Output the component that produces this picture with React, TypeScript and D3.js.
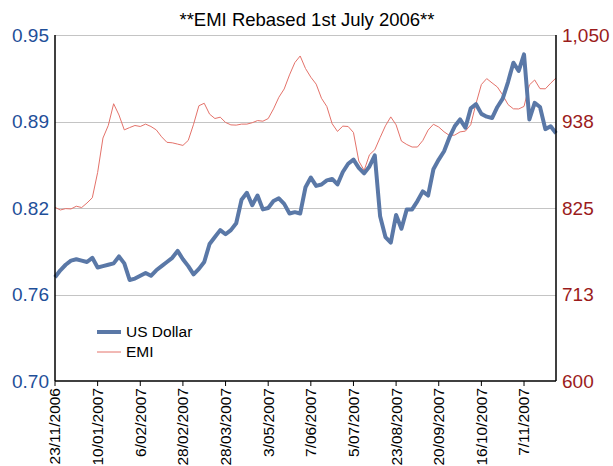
import React from 'react';
import * as d3 from 'd3';

// weekly-ish observations, one tick label every 8 points
const tickLabels = [
  '23/11/2006', '10/01/2007', '6/02/2007', '28/02/2007', '28/03/2007', '3/05/2007',
  '7/06/2007', '5/07/2007', '23/08/2007', '20/09/2007', '16/10/2007', '7/11/2007'
];
const tickEvery = 8;

const usDollar = [
  0.775, 0.780, 0.784, 0.787, 0.788, 0.787, 0.786, 0.789, 0.782, 0.783,
  0.784, 0.785, 0.790, 0.785, 0.773, 0.774, 0.776, 0.778, 0.776, 0.780,
  0.783, 0.786, 0.789, 0.794, 0.788, 0.783, 0.777, 0.781, 0.786, 0.799,
  0.804, 0.809, 0.806, 0.809, 0.814, 0.831, 0.836, 0.827, 0.834, 0.824,
  0.825, 0.830, 0.832, 0.828, 0.821, 0.822, 0.821, 0.840, 0.847, 0.841,
  0.842, 0.845, 0.846, 0.842, 0.851, 0.857, 0.860, 0.854, 0.850, 0.855,
  0.863, 0.819, 0.804, 0.800, 0.820, 0.810, 0.824, 0.824, 0.830, 0.837,
  0.834, 0.853, 0.860, 0.866, 0.876, 0.884, 0.889, 0.883, 0.897, 0.900,
  0.893, 0.891, 0.890, 0.898, 0.904, 0.916, 0.930, 0.924, 0.936, 0.889,
  0.901, 0.898, 0.882, 0.884, 0.879
];

const emi = [
  825.9, 822.4, 824.2, 823.8, 827.3, 825.6, 831.5, 838.3, 871.2, 916.0,
  932.4, 960.6, 946.0, 926.6, 929.6, 932.3, 931.0, 934.1, 931.0, 926.6,
  917.6, 910.4, 909.8, 908.1, 906.4, 912.9, 933.9, 958.0, 961.2, 947.1,
  941.4, 943.1, 936.3, 933.1, 932.8, 934.1, 934.1, 935.9, 938.7, 937.9,
  941.3, 953.9, 969.0, 979.8, 998.1, 1014.1, 1022.7, 1006.4, 995.1, 986.1,
  967.7, 957.0, 934.6, 924.6, 931.5, 931.0, 923.2, 886.1, 873.9, 894.2,
  900.7, 916.6, 931.9, 943.5, 933.1, 912.0, 907.6, 904.3, 904.3, 912.7,
  926.3, 933.9, 930.3, 924.1, 919.4, 919.8, 924.0, 925.0, 933.3, 960.9,
  985.6, 993.3, 987.7, 982.4, 972.0, 959.5, 954.0, 953.8, 957.1, 985.0,
  991.5, 980.2, 980.0, 987.3, 994.1
];

const leftTicks = [0.70, 0.7625, 0.825, 0.8875, 0.95];
const leftTickLabels = ['0.70', '0.76', '0.82', '0.89', '0.95'];
const rightTicks = [600, 712.5, 825, 937.5, 1050];
const rightTickLabels = ['600', '713', '825', '938', '1,050'];

const W = 613;
const H = 466;
const margin = { top: 35, right: 57, bottom: 85, left: 55 };
const font = '"Liberation Sans", Arial, sans-serif';

const App: React.FC = () => {
  const x = d3.scaleLinear()
    .domain([0, usDollar.length - 1])
    .range([margin.left, W - margin.right]);
  const yL = d3.scaleLinear().domain([0.70, 0.95]).range([H - margin.bottom, margin.top]);
  const yR = d3.scaleLinear().domain([600, 1050]).range([H - margin.bottom, margin.top]);

  const usdLine = d3.line<number>().x((d, i) => x(i)).y(d => yL(d));
  const emiLine = d3.line<number>().x((d, i) => x(i)).y(d => yR(d));

  const bottom = H - margin.bottom;
  const tickIdx = tickLabels.map((_, i) => i * tickEvery);

  return (
    <svg width={W} height={H} style={{ position: 'absolute', left: 0, top: 0 }} fontFamily={font}>
      <rect width={W} height={H} fill="#fff" />
      <text x={307} y={26} textAnchor="middle" fontSize={18.5} fill="#000">
        **EMI Rebased 1st July 2006**
      </text>

      {/* gridlines */}
      {leftTicks.slice(1).map(t => (
        <line key={t} x1={margin.left} x2={W - margin.right}
          y1={Math.round(yL(t)) + 0.5} y2={Math.round(yL(t)) + 0.5}
          stroke="#c4c4c4" strokeWidth={1.2} />
      ))}

      {/* lines */}
      <path d={emiLine(emi) || ''} fill="none" stroke="#e4726a" strokeWidth={1} />
      <path d={usdLine(usDollar) || ''} fill="none" stroke="#5a78a7" strokeWidth={4} strokeLinejoin="round" />

      {/* axes */}
      <line x1={margin.left} x2={margin.left} y1={margin.top} y2={bottom} stroke="#000" strokeWidth={1.5} />
      <line x1={W - margin.right} x2={W - margin.right} y1={margin.top} y2={bottom} stroke="#000" strokeWidth={1.5} />
      <line x1={margin.left} x2={W - margin.right} y1={bottom} y2={bottom} stroke="#000" strokeWidth={1.5} />

      {leftTicks.map((t, i) => (
        <text key={t} x={49} y={yL(t)} dy="0.35em" textAnchor="end" fontSize={19} fill="#1f4f99">
          {leftTickLabels[i]}
        </text>
      ))}
      {rightTicks.map((t, i) => (
        <text key={t} x={562} y={yR(t)} dy="0.35em" textAnchor="start" fontSize={19} fill="#9b1c1c">
          {rightTickLabels[i]}
        </text>
      ))}

      {tickIdx.map((ti, i) => (
        <g key={ti} transform={`translate(${x(ti)},${bottom})`}>
          <line y1={0} y2={5} stroke="#000" strokeWidth={1} />
          <text transform="rotate(-90)" x={-7} dy="0.35em" textAnchor="end" fontSize={15.5} fill="#000">
            {tickLabels[i]}
          </text>
        </g>
      ))}

      {/* legend */}
      <line x1={97} x2={121} y1={332} y2={332} stroke="#5a78a7" strokeWidth={4} />
      <text x={126} y={332} dy="0.35em" fontSize={15.5} fill="#000">US Dollar</text>
      <line x1={97} x2={121} y1={352} y2={352} stroke="#e4726a" strokeWidth={1} />
      <text x={126} y={352} dy="0.35em" fontSize={15.5} fill="#000">EMI</text>
    </svg>
  );
};

export default App;
